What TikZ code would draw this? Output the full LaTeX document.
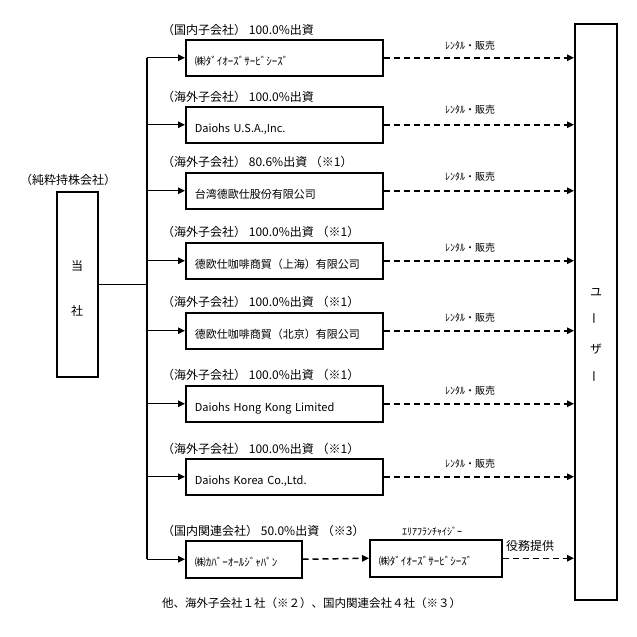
\documentclass[tikz,border=0pt]{standalone}
\usepackage{fontspec}
\setmainfont{Noto Sans CJK JP}
\usepackage{graphicx}
\usetikzlibrary{arrows.meta}
\begin{document}
\begin{tikzpicture}[x=1pt,y=-1pt,
  box/.style={draw,line width=1.5pt,minimum height=36pt,inner xsep=9pt,inner ysep=0pt,
    align=left,anchor=north west,text width=#1,text height=16pt,text depth=1pt,
    font=\fontsize{11}{13}\selectfont},
  lbl/.style={anchor=west,inner sep=0pt,font=\fontsize{12}{14}\selectfont},
  small/.style={inner sep=0pt,font=\fontsize{10}{12}\selectfont},
  line/.style={line width=1.4pt},
  arr/.style={line width=1.4pt,-{Triangle[length=7pt,width=6.5pt]}},
  darr/.style={line width=1.5pt,dash pattern=on 6pt off 4pt,-{Triangle[length=7pt,width=6.5pt]}}
]
\useasboundingbox (0,0) rectangle (637,637);

% holding company
\node[inner sep=0pt,font=\fontsize{12}{14}\selectfont] (hold) at (68,180) {（純粋持株会社）};
\node[draw,line width=1.5pt,anchor=north west,minimum width=41pt,minimum height=185pt,inner sep=0pt] (ts) at (56,191) {};
\node[align=center,inner sep=0pt,font=\fontsize{12}{45}\selectfont] (tst) at (77,288) {当\\社};

% user box
\node[draw,line width=1.5pt,anchor=north west,minimum width=42pt,minimum height=576pt,inner sep=0pt] (user) at (574,23) {};
\node[align=center,inner sep=0pt,font=\fontsize{12}{28.7}\selectfont] (ut) at (596,335) {ユ\\\rotatebox{90}{ー}\\ザ\\\rotatebox{90}{ー}};

% subsidiary boxes
\node[box=179pt] (b1) at (185,39) {㈱ﾀﾞｲｵｰｽﾞｻｰﾋﾞｼｰｽﾞ};
\node[box=179pt] (b2) at (185,106) {Daiohs U.S.A.,Inc.};
\node[box=179pt] (b3) at (185,172) {台湾德歐仕股份有限公司};
\node[box=179pt] (b4) at (185,242) {德欧仕咖啡商貿（上海）有限公司};
\node[box=179pt] (b5) at (185,312) {德欧仕咖啡商貿（北京）有限公司};
\node[box=179pt] (b6) at (185,385) {Daiohs Hong Kong Limited};
\node[box=179pt] (b7) at (185,458) {Daiohs Korea Co.,Ltd.};
\node[box=98pt,minimum height=37pt] (b8) at (185,540) {㈱ｶﾊﾞｰｵｰﾙｼﾞｬﾊﾟﾝ};
\node[box=114pt,minimum height=37pt] (b9) at (369,539) {㈱ﾀﾞｲｵｰｽﾞｻｰﾋﾞｼｰｽﾞ};

% labels above boxes
\node[lbl] (l1) at (162,30) {（国内子会社） 100.0\%出資};
\node[lbl] (l2) at (162,97) {（海外子会社） 100.0\%出資};
\node[lbl] (l3) at (162,162) {（海外子会社） 80.6\%出資 （※1）};
\node[lbl] (l4) at (162,232) {（海外子会社） 100.0\%出資 （※1）};
\node[lbl] (l5) at (162,302) {（海外子会社） 100.0\%出資 （※1）};
\node[lbl] (l6) at (162,375) {（海外子会社） 100.0\%出資 （※1）};
\node[lbl] (l7) at (162,449) {（海外子会社） 100.0\%出資 （※1）};
\node[lbl] (l8) at (162,531) {（国内関連会社） 50.0\%出資 （※3）};

% trunk
\coordinate (tr) at (147,0);
\draw[line] (ts.east) -- (tr |- ts.east);
\draw[line] (tr |- b1.west) -- (tr |- b8.west);
\foreach \b in {b1,b2,b3,b4,b5,b6,b7,b8}
  \draw[arr] (tr |- \b.west) -- (\b.west);

% dashed rental arrows
\foreach \b/\ly in {b1/46,b2/110,b3/177,b4/248,b5/318,b6/391,b7/464}{
  \draw[darr] (\b.east) -- (\b.east -| user.west);
  \node[small] (r\b) at (470,\ly) {ﾚﾝﾀﾙ・販売};
}
\draw[darr] (b8.east) -- (b9.west);
\draw[darr] (b9.east) -- (b9.east -| user.west);
\node[small] (fr) at (432,531) {ｴﾘｱﾌﾗﾝﾁｬｲｼﾞｰ};
\node[inner sep=0pt,font=\fontsize{12}{14}\selectfont] (yk) at (530,546) {役務提供};

% footer
\node[lbl,font=\fontsize{11.5}{14}\selectfont] (foot) at (162,603) {他、海外子会社１社（※２）、国内関連会社４社（※３）};
\end{tikzpicture}
\end{document}
